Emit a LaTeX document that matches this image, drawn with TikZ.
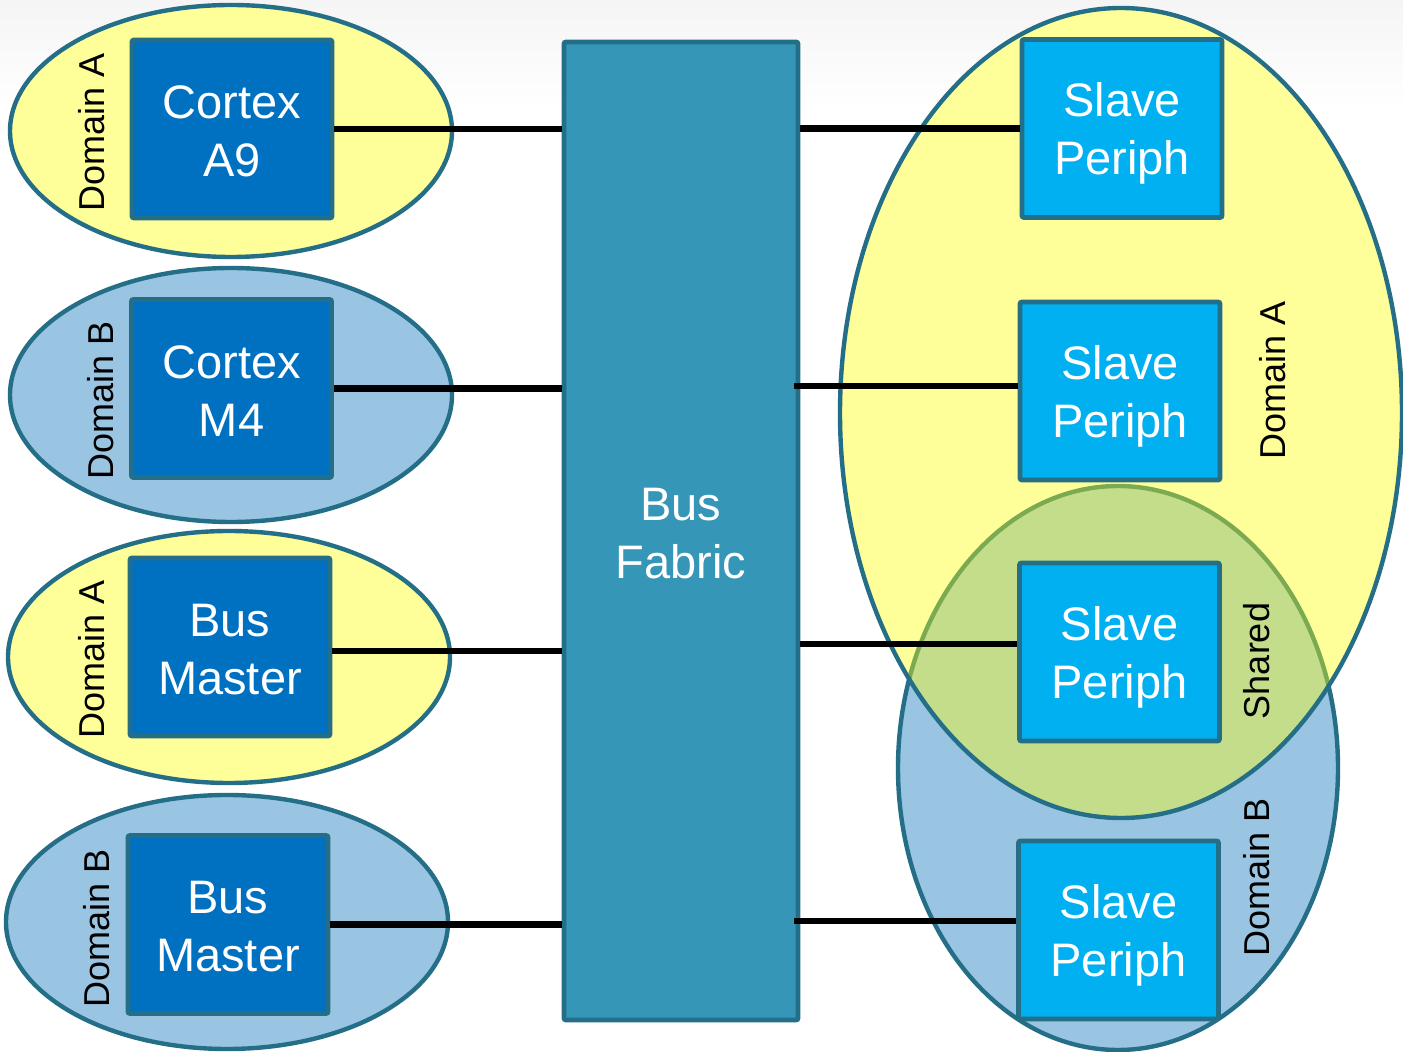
\documentclass[tikz,border=0pt]{standalone}
\usepackage{fontspec}
\setmainfont{Liberation Sans}
\usetikzlibrary{shapes.geometric}

\definecolor{rim}{HTML}{246F87}
\definecolor{domA}{HTML}{FFFF99}
\definecolor{domB}{HTML}{99C4E2}
\definecolor{shared}{HTML}{C3DD8A}
\definecolor{sharedrim}{HTML}{7BAA50}
\definecolor{master}{HTML}{0070C0}
\definecolor{slave}{HTML}{00B0F0}
\definecolor{fabric}{HTML}{3596B7}

\tikzset{
  unitbox/.style={draw=rim, line width=2.4pt, rounded corners=1pt, inner sep=0pt,
    minimum width=100pt, minimum height=89pt},
  masterbox/.style={unitbox, fill=master},
  slavebox/.style={unitbox, fill=slave},
  captext/.style={text=white, align=center, inner sep=0pt,
    font=\fontsize{23.5}{29}\selectfont},
  domainell/.style={ellipse, draw=rim, line width=2.2pt, inner sep=0pt,
    minimum width=221pt, minimum height=126pt},
  domlabel/.style={rotate=90, font=\fontsize{18}{21}\selectfont, text=black},
  wire/.style={line width=3.3pt, black}
}

\begin{document}
\begin{tikzpicture}[x=0.5pt, y=-0.5pt]
  % page and faint top fade
  \useasboundingbox (0,0) rectangle (1403,1052);
  \fill[white] (0,0) rectangle (1403,1052);
  \shade[top color=black!4, bottom color=white] (0,0) rectangle (1403,110);

  % left-hand domains
  \node[domainell, fill=domA] (ellA1) at (231,131) {};
  \node[domainell, fill=domB, minimum height=127pt] (ellB1) at (231,395) {};
  \node[domainell, fill=domA] (ellA2) at (229,657) {};
  \node[domainell, fill=domB, minimum height=127pt] (ellB2) at (227,922) {};

  % right-hand overlapping domains
  \def\ellBpath{(1118,768) ellipse [x radius=220, y radius=282]}
  \def\ellApath{(1121,413) ellipse [x radius=281, y radius=405]}
  \path[fill=domB, draw=rim, line width=2.2pt] \ellBpath;
  \path[fill=domA] \ellApath;
  \begin{scope}
    \clip \ellBpath;
    \path[fill=shared] \ellApath;
  \end{scope}
  \begin{scope}
    \clip \ellApath;
    \path[draw=sharedrim, line width=2.2pt] \ellBpath;
  \end{scope}
  \path[draw=rim, line width=2.2pt] \ellApath;

  % bus masters
  \node[masterbox, label={[captext, yshift=-1.2pt]center:Cortex\\A9}] (a9) at (232,129) {};
  \node[masterbox, label={[captext, yshift=-1.2pt]center:Cortex\\M4}] (m4) at (231.5,388.5) {};
  \node[masterbox, label={[captext, yshift=-1.2pt]center:Bus\\Master}] (bm1) at (230,647) {};
  \node[masterbox, label={[captext, yshift=-1.2pt]center:Bus\\Master}] (bm2) at (228,924.5) {};

  % interconnect
  \node[unitbox, fill=fabric, minimum width=117pt, minimum height=489pt,
        label={[captext, yshift=-1.2pt]center:Bus\\Fabric}] (bus) at (681,531) {};

  % slave peripherals
  \node[slavebox, label={[captext, yshift=-2.5pt]center:Slave\\Periph}] (sp1) at (1122,128.5) {};
  \node[slavebox, label={[captext, yshift=-2.5pt]center:Slave\\Periph}] (sp2) at (1120,391) {};
  \node[slavebox, label={[captext, yshift=-2.5pt]center:Slave\\Periph}] (sp3) at (1119.5,652) {};
  \node[slavebox, label={[captext, yshift=-2.5pt]center:Slave\\Periph}] (sp4) at (1118.5,930) {};

  % domain labels
  \node[domlabel] (lA1) at (92,132) {Domain A};
  \node[domlabel] (lB1) at (101,400) {Domain B};
  \node[domlabel] (lA2) at (92,659) {Domain A};
  \node[domlabel] (lB2) at (97,928) {Domain B};
  \node[domlabel] (rA) at (1273,380) {Domain A};
  \node[domlabel] (rS) at (1257,661) {Shared};
  \node[domlabel] (rB) at (1257,877) {Domain B};

  % links to the fabric
  \draw[wire] (a9.east) -- (a9.east -| bus.west);
  \draw[wire] (m4.east) -- (m4.east -| bus.west);
  \draw[wire] ([yshift=-2pt]bm1.east) -- ([yshift=-2pt]bm1.east -| bus.west);
  \draw[wire] (bm2.east) -- (bm2.east -| bus.west);
  \draw[wire] (sp1.west) -- (sp1.west -| bus.east);
  \draw[wire] ([yshift=2.5pt]sp2.west) -- ([yshift=2.5pt, xshift=-3pt]sp2.west -| bus.east);
  \draw[wire] ([yshift=4pt]sp3.west) -- ([yshift=4pt]sp3.west -| bus.east);
  \draw[wire] ([yshift=4.5pt]sp4.west) -- ([yshift=4.5pt, xshift=-3pt]sp4.west -| bus.east);
\end{tikzpicture}
\end{document}
